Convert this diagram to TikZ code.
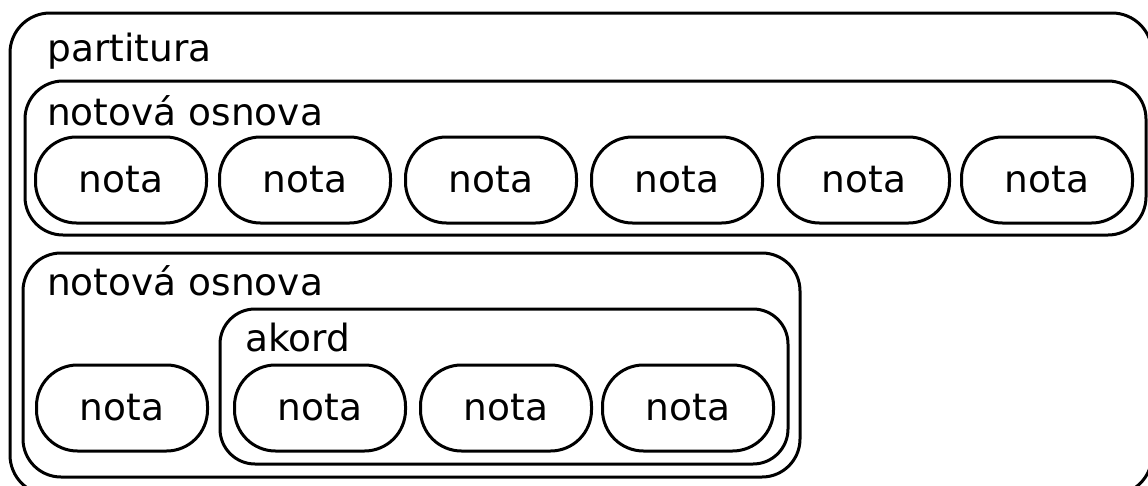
\documentclass[tikz,border=0pt]{standalone}
\usepackage{fontspec}
\setmainfont{DejaVu Sans}
\begin{document}
\begin{tikzpicture}[x=1pt,y=-1pt,
  frame/.style={draw, line width=3pt, rounded corners=#1, inner sep=0pt},
  frame/.default=38pt,
  notebox/.style={draw, line width=3pt, rounded corners=41pt, minimum width=171pt,
    minimum height=86pt, inner sep=0pt, font=\fontsize{37.5}{40}\selectfont},
  caption/.style={anchor=base west, inner sep=0pt, font=\fontsize{37.5}{40}\selectfont}]
\useasboundingbox (0,0) rectangle (1148,485);

% containers
\node[frame=40pt, minimum width=1142pt, minimum height=482pt] (score) at (581,254) {};
\node[frame, minimum width=1121pt, minimum height=154pt] (staffA) at (585.5,158) {};
\node[frame, minimum width=777pt, minimum height=224pt] (staffB) at (411.5,365) {};
\node[frame=35pt, minimum width=568pt, minimum height=155pt] (chord) at (504,386.5) {};

% captions
\node[caption] (lscore) at (47,61) {partitura};
\node[caption] (lstaffA) at (47,125) {notová osnova};
\node[caption] (lstaffB) at (47,295) {notová osnova};
\node[caption] (lchord) at (245,351) {akord};

% notes of the first staff
\foreach \i/\cx in {1/121,2/305,3/491,4/677,5/864,6/1047}
  \node[notebox] (a\i) at (\cx,180) {nota};

% notes of the second staff
\node[notebox] (b1) at (122,408) {nota};
\node[notebox] (b2) at (320,408) {nota};
\node[notebox] (b3) at (506,408) {nota};
\node[notebox] (b4) at (688,408) {nota};
\end{tikzpicture}
\end{document}
